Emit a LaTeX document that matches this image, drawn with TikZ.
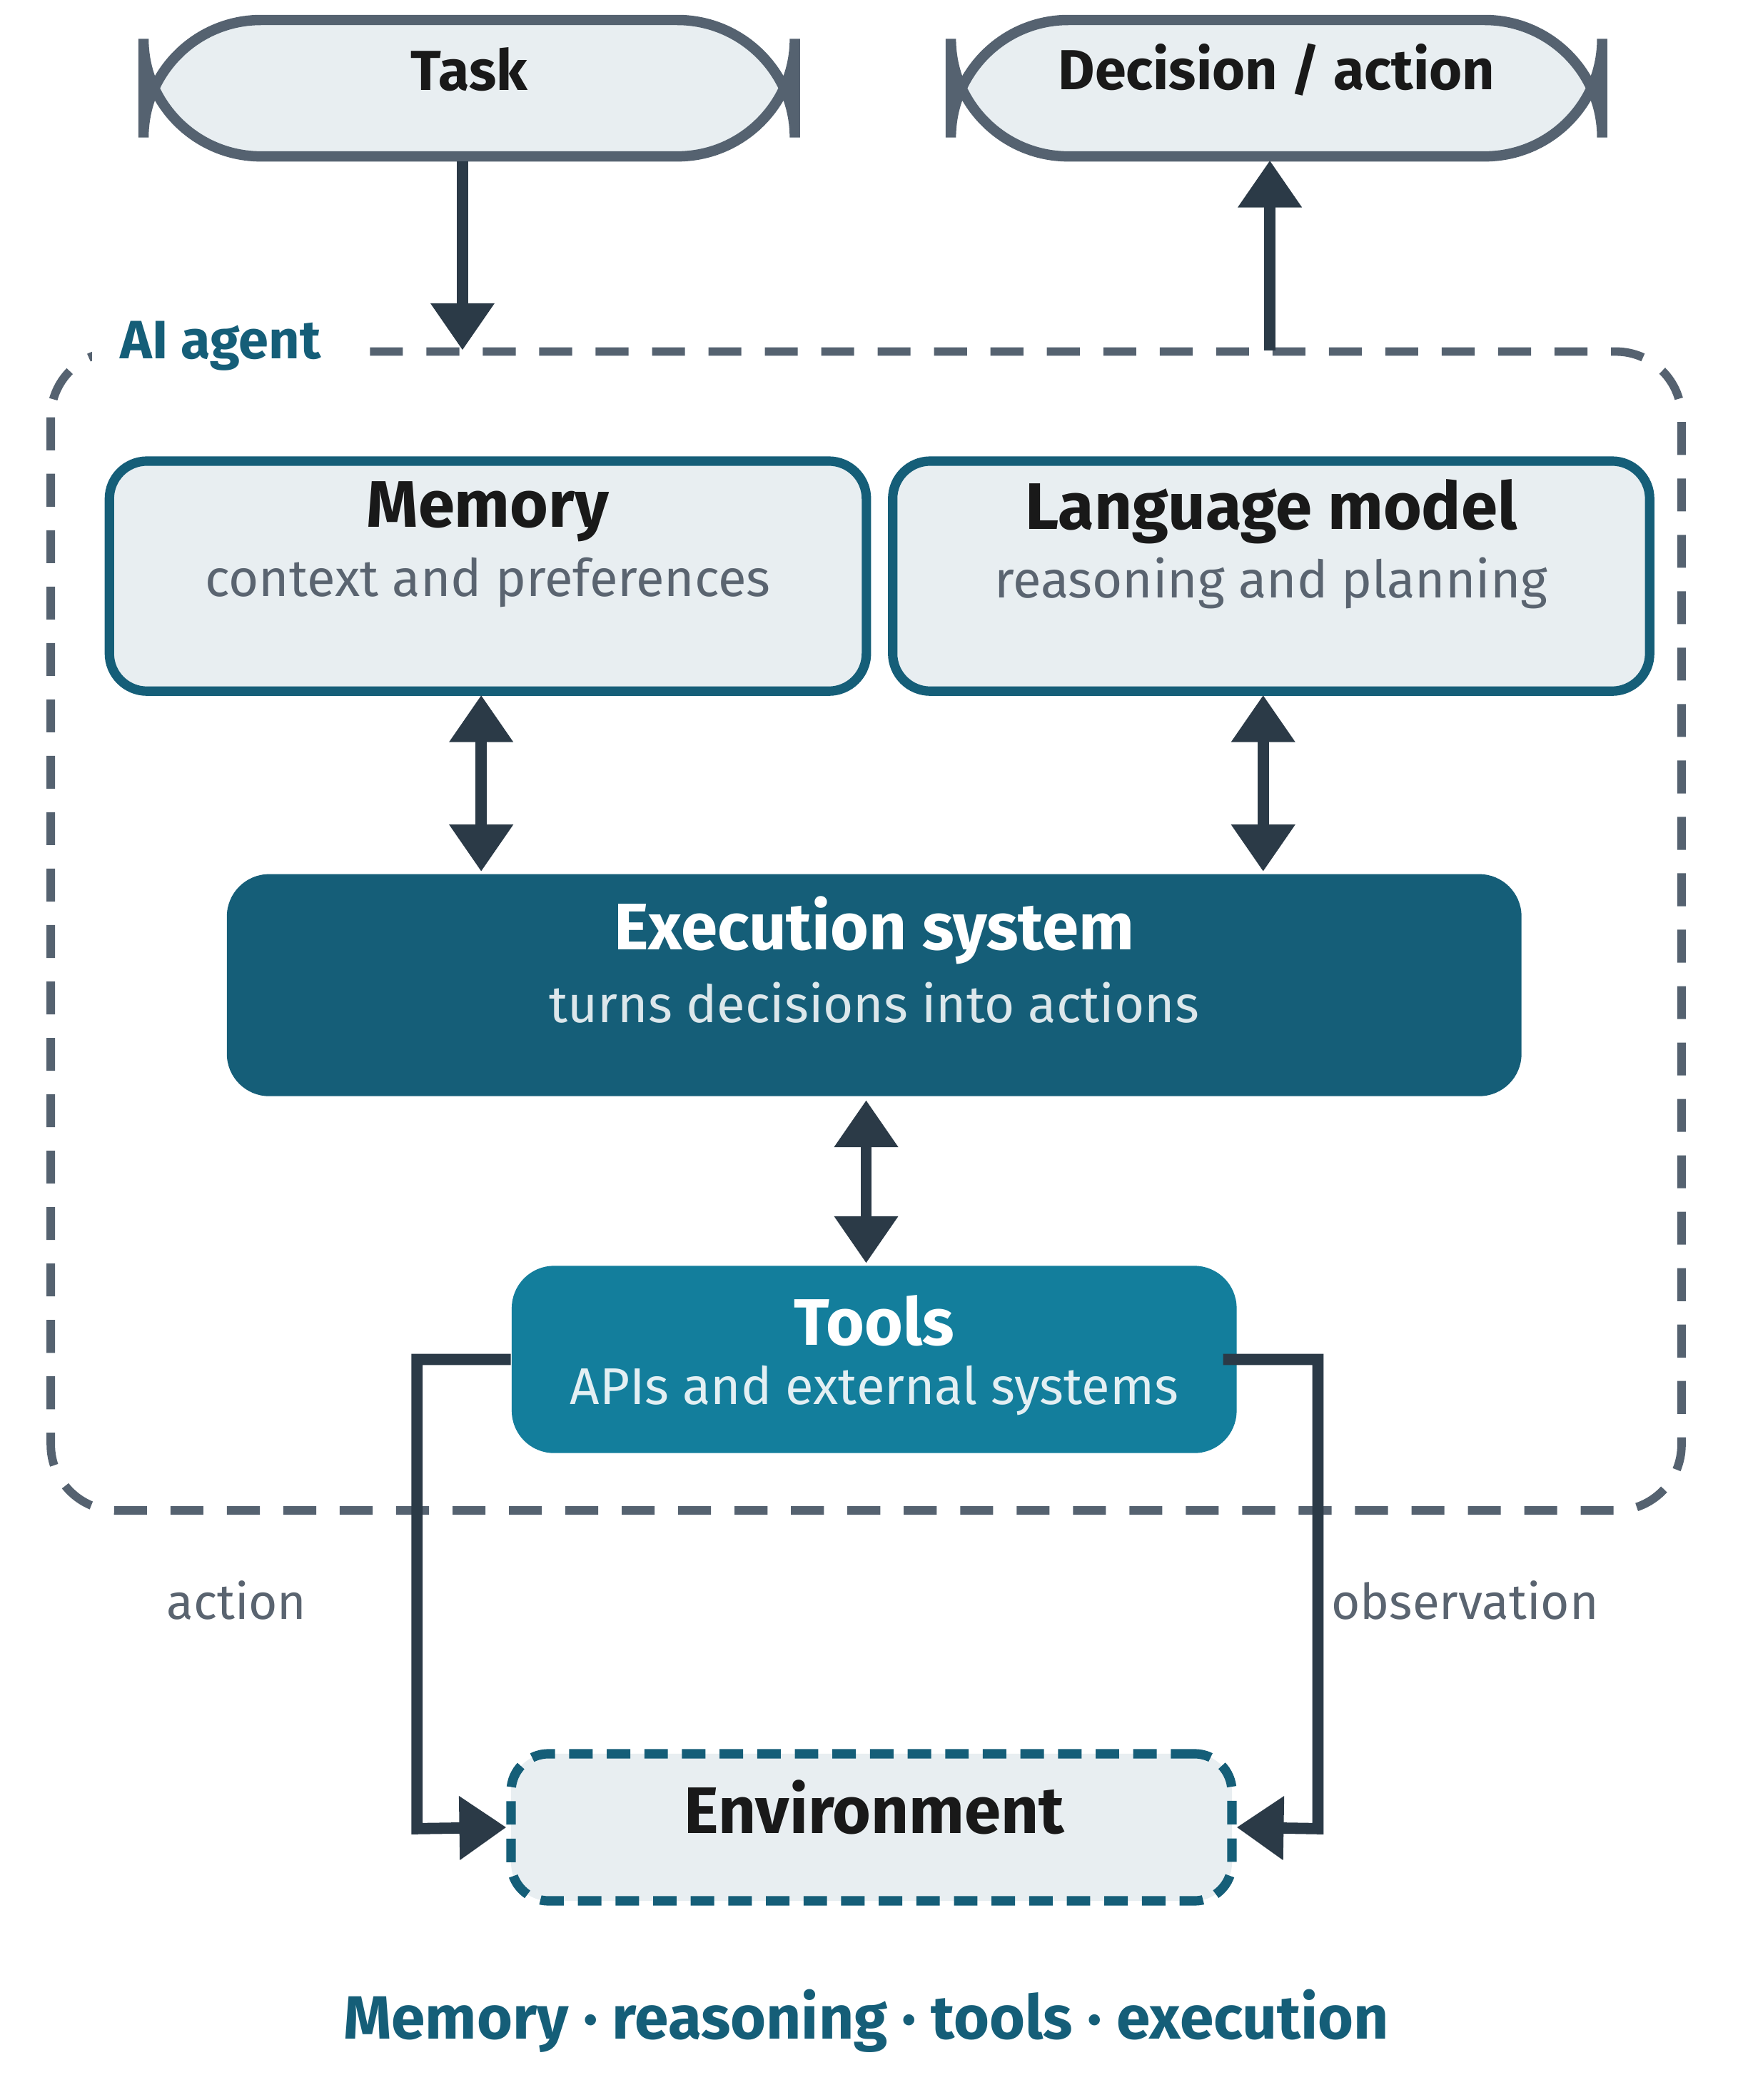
\documentclass[tikz,border=0pt]{standalone}
\usepackage{fontspec}
\setmainfont{Fira Sans}
\usetikzlibrary{calc, arrows.meta}
\definecolor{slate}{HTML}{556270}
\definecolor{pale}{HTML}{E8EEF1}
\definecolor{ink}{HTML}{2B3A47}
\definecolor{teal}{HTML}{155E78}
\definecolor{tealmid}{HTML}{137E9C}
\definecolor{subgray}{HTML}{5A6470}
\tikzset{
    pill/.style={draw=slate, line width=2.2pt, fill=pale, rounded corners=25pt, minimum width=4.87cm, minimum height=1.02cm, font=\fontsize{12}{14}\selectfont\bfseries, text=black!90},
    part/.style={draw=teal, line width=2pt, fill=pale, rounded corners=8pt, minimum width=5.66cm, minimum height=1.72cm},
    flow/.style={ink, line width=2.4pt, -{Triangle[width=13pt,length=10pt]}},
    both/.style={ink, line width=2.4pt, {Triangle[width=13pt,length=10pt]}-{Triangle[width=13pt,length=10pt]}},
}
\begin{document}
\begin{tikzpicture}[x=0.01cm,y=-0.01cm]
                \useasboundingbox (0,0) rectangle (1300,1571);
                \node[pill] (task) at (351,66) {};
                \node[text=black!90, font=\fontsize{12}{14}\selectfont\bfseries] (tasklbl) at (351,52) {Task};
                \node[pill] (decision) at (955,66) {};
                \node[text=black!90, font=\fontsize{12}{14}\selectfont\bfseries] (declbl) at (955,52) {Decision / action};
                % agent frame
                \draw[slate, line width=1.8pt, dash pattern=on 7pt off 5pt, rounded corners=14pt] (38,263) rectangle (1258,1130);
                \node[fill=white, text=teal, font=\fontsize{11.5}{13}\selectfont\bfseries, inner xsep=6pt] (agentlbl) at (165,259) {AI agent};
                \coordinate (agtop) at (346,262);
                \coordinate (agout) at (950,262);
                \draw[flow] (task.south -| agtop) -- (agtop);
                \draw[flow] (agout) -- (950,120);
                % parts
                \node[part] (memory) at (365,431) {};
                \node[font=\fontsize{14}{16}\selectfont\bfseries, text=black!90] at (365,383) {Memory};
                \node[font=\fontsize{11}{13}\selectfont, text=subgray] at (365,436) {context and preferences};
                \node[part] (model) at (951,431) {};
                \node[font=\fontsize{14}{16}\selectfont\bfseries, text=black!90] at (951,383) {Language model};
                \node[font=\fontsize{11}{13}\selectfont, text=subgray] at (951,436) {reasoning and planning};
                \node[fill=teal, rounded corners=9pt, minimum width=9.68cm, minimum height=1.66cm] (exec) at (654,737) {};
                \node[font=\fontsize{14}{16}\selectfont\bfseries, text=white] at (654,696) {Execution system};
                \node[font=\fontsize{11}{13}\selectfont, text=white!85!teal] at (654,750) {turns decisions into actions};
                \node[fill=tealmid, rounded corners=9pt, minimum width=5.42cm, minimum height=1.40cm] (tools) at (654,1017) {};
                \node[font=\fontsize{14}{16}\selectfont\bfseries, text=white] at (654,988) {Tools};
                \node[font=\fontsize{11}{13}\selectfont, text=white!88!tealmid] at (654,1040) {APIs and external systems};
                \draw[both] (360,520) -- (360,652);
                \draw[both] (945,520) -- (945,652);
                \draw[both] (648,823) -- (648,945);
                % environment
                \node[draw=teal, line width=2pt, dash pattern=on 5pt off 3pt, fill=pale, rounded corners=8pt, minimum width=5.39cm, minimum height=1.10cm] (env) at (652,1367) {};
                \node[font=\fontsize{14}{16}\selectfont\bfseries, text=black!90] at (654,1352) {Environment};
                \draw[flow, rounded corners=0pt] (tools.west) -- (312,1017) -- (312,1368) -- (env.west);
                \draw[flow] (915,1017) -- (986,1017) -- (986,1368) -- (env.east);
                \node[font=\fontsize{10.5}{12}\selectfont, text=subgray] (actlbl) at (177,1197) {action};
                \node[font=\fontsize{10.5}{12}\selectfont, text=subgray] (obslbl) at (1096,1197) {observation};
                \node[font=\fontsize{13}{15}\selectfont\bfseries, text=teal] (footer) at (648,1512) {Memory · reasoning · tools · execution};
\end{tikzpicture}
\end{document}
